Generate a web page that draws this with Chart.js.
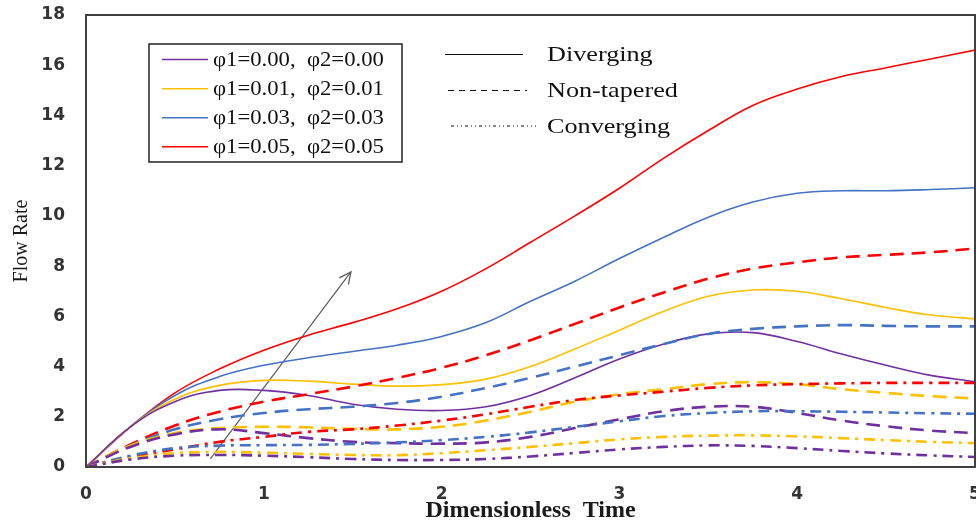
<!DOCTYPE html>
<html>
<head>
<meta charset="utf-8">
<script src="https://cdn.jsdelivr.net/npm/chart.js@4"></script>
<style>
html,body{margin:0;padding:0;background:#fff;}
#wrap{width:976px;height:525px;position:relative;}
</style>
</head>
<body>
<div id="wrap"><canvas id="c" width="976" height="525"></canvas></div>
<script>
// ---------- data ----------
const times = [0,0.25,0.5,0.75,1,1.25,1.5,1.75,2,2.25,2.5,2.75,3,3.25,3.5,3.75,4,4.25,4.5,4.75,5];

// Diverging (solid)
const divPurple = [0,1.6,2.6,3.05,3.05,2.85,2.5,2.3,2.25,2.4,2.85,3.55,4.3,4.9,5.3,5.35,5.0,4.5,4.05,3.65,3.4];
const divYellow = [0,1.6,2.7,3.25,3.45,3.42,3.3,3.22,3.28,3.5,4.0,4.7,5.45,6.2,6.8,7.05,7.0,6.7,6.35,6.05,5.9];
const divBlue   = [0,1.6,2.85,3.6,4.05,4.35,4.6,4.85,5.2,5.75,6.6,7.4,8.3,9.15,9.95,10.55,10.9,11.0,11.0,11.05,11.12];
const divRed    = [0,1.6,2.95,3.9,4.65,5.25,5.75,6.3,7.0,7.9,8.95,10.0,11.1,12.3,13.4,14.4,15.05,15.55,15.9,16.25,16.6];

// Non-tapered (dashed)
const nonPurple = [0,0.8,1.3,1.5,1.35,1.15,1.0,0.95,0.93,0.98,1.2,1.55,1.9,2.22,2.4,2.4,2.15,1.85,1.62,1.45,1.35];
const nonYellow = [0,0.85,1.35,1.55,1.6,1.58,1.52,1.5,1.6,1.85,2.2,2.6,2.9,3.1,3.3,3.38,3.3,3.1,2.95,2.82,2.73];
const nonBlue   = [0,0.85,1.5,1.9,2.15,2.3,2.4,2.55,2.8,3.15,3.55,4.0,4.45,4.9,5.3,5.5,5.6,5.65,5.62,5.6,5.6];
const nonRed    = [0,0.9,1.65,2.2,2.6,2.9,3.2,3.55,3.95,4.45,5.05,5.7,6.35,6.95,7.5,7.9,8.15,8.35,8.45,8.55,8.7];

// Converging (dash-dot)
const conPurple = [0,0.3,0.45,0.48,0.45,0.39,0.32,0.28,0.28,0.32,0.42,0.56,0.7,0.8,0.86,0.84,0.75,0.64,0.54,0.46,0.4];
const conYellow = [0,0.35,0.55,0.6,0.57,0.52,0.48,0.47,0.55,0.67,0.8,0.95,1.1,1.2,1.25,1.26,1.22,1.15,1.07,1.0,0.95];
const conBlue   = [0,0.45,0.75,0.85,0.87,0.88,0.92,0.98,1.07,1.2,1.38,1.6,1.82,2.03,2.15,2.22,2.22,2.2,2.17,2.14,2.12];
const conRed    = [0,0.4,0.7,1.0,1.2,1.4,1.5,1.65,1.85,2.1,2.4,2.67,2.85,3.0,3.15,3.25,3.3,3.33,3.35,3.35,3.35];

// Arrow annotation (data coordinates)
const arrowX = [0.70, 1.49];
const arrowY = [0.33, 7.77];

const seriesLabels = ['φ1=0.00,  φ2=0.00','φ1=0.01,  φ2=0.01','φ1=0.03,  φ2=0.03','φ1=0.05,  φ2=0.05'];
const styleLabels = ['Diverging','Non-tapered','Converging'];
const xTickValues = [0,1,2,3,4,5];
const yTickValues = [0,2,4,6,8,10,12,14,16,18];

// ---------- styling ----------
const colors = ['#7030A0','#FFC000','#4472C4','#FF0000'];
const groups = [
  {vals:[divPurple,divYellow,divBlue,divRed], dash:[], width:1.6},
  {vals:[nonPurple,nonYellow,nonBlue,nonRed], dash:[14,8], width:2.6},
  {vals:[conPurple,conYellow,conBlue,conRed], dash:[11,6,3,6], width:2.6}
];

const datasets = [];
[2,1,0].forEach(g=>{
  groups[g].vals.forEach((arr,i)=>{
    datasets.push({
      label: styleLabels[g]+' '+seriesLabels[i],
      data: times.map((t,k)=>({x:t,y:arr[k]})),
      borderColor: colors[i],
      borderWidth: groups[g].width,
      borderDash: groups[g].dash,
      pointRadius: 0,
      tension: 0.4,
      fill: false
    });
  });
});
datasets.push({
  label:'arrow',
  data: arrowX.map((x,k)=>({x:x,y:arrowY[k]})),
  borderColor:'#5a5a5a',
  borderWidth:1.2,
  pointRadius:0,
  tension:0
});
const arrowIndex = datasets.length-1;

const decor = {
  id:'decor',
  afterDatasetsDraw(chart){
    const ctx = chart.ctx;
    const a = chart.chartArea;
    ctx.save();
    // arrowhead
    const pts = chart.getDatasetMeta(arrowIndex).data;
    const p0 = pts[0], p1 = pts[1];
    const ang = Math.atan2(p1.y-p0.y, p1.x-p0.x);
    const L = 13, spread = 0.45;
    ctx.strokeStyle = '#5a5a5a';
    ctx.lineWidth = 1.3;
    ctx.beginPath();
    ctx.moveTo(p1.x - L*Math.cos(ang-spread), p1.y - L*Math.sin(ang-spread));
    ctx.lineTo(p1.x, p1.y);
    ctx.lineTo(p1.x - L*Math.cos(ang+spread), p1.y - L*Math.sin(ang+spread));
    ctx.stroke();

    // frame
    ctx.strokeStyle = '#404040';
    ctx.lineWidth = 2;
    ctx.strokeRect(a.left, a.top, a.right-a.left, a.bottom-a.top);

    // series legend box
    ctx.fillStyle = '#fff';
    ctx.fillRect(149, 44, 253, 118);
    ctx.strokeStyle = '#222';
    ctx.lineWidth = 1.5;
    ctx.strokeRect(149, 44, 253, 118);
    const rows = [59.5, 88.7, 117.7, 146.7];
    ctx.font = '21px "Liberation Serif", "Times New Roman", serif';
    ctx.textBaseline = 'middle';
    ctx.textAlign = 'left';
    rows.forEach((y,i)=>{
      ctx.strokeStyle = colors[i];
      ctx.lineWidth = 1.4;
      ctx.setLineDash([]);
      ctx.beginPath(); ctx.moveTo(162, y); ctx.lineTo(208, y); ctx.stroke();
      ctx.save();
      ctx.translate(213, y+1);
      ctx.scale(1.08, 1);
      ctx.fillStyle = '#111';
      ctx.fillText(seriesLabels[i], 0, 0);
      ctx.restore();
    });

    // style legend
    const sRows = [54.5, 90.5, 126];
    const dashes = [[], [6,5], [3,3,1,3,1,3]];
    const ends = [523, 527, 536];
    const starts = [445, 448, 451];
    ctx.font = '22px "Liberation Serif", "Times New Roman", serif';
    sRows.forEach((y,i)=>{
      ctx.strokeStyle = '#111';
      ctx.lineWidth = 1.1;
      ctx.setLineDash(dashes[i]);
      ctx.beginPath(); ctx.moveTo(starts[i], y); ctx.lineTo(ends[i], y); ctx.stroke();
      ctx.setLineDash([]);
      ctx.save();
      ctx.translate(547, y+1);
      ctx.scale(1.19, 1);
      ctx.fillStyle = '#111';
      ctx.fillText(styleLabels[i], 0, 0);
      ctx.restore();
    });
    ctx.restore();
  }
};

new Chart(document.getElementById('c'), {
  type:'line',
  data:{datasets},
  options:{
    responsive:false,
    animation:false,
    events:[],
    layout:{padding:{top:15,right:1,left:0,bottom:0}},
    plugins:{legend:{display:false}, tooltip:{enabled:false}},
    scales:{
      x:{
        type:'linear', min:0, max:5,
        afterBuildTicks(s){ s.ticks = xTickValues.map(v=>({value:v})); },
        afterFit(s){ s.height = 58; s.paddingLeft = 0; s.paddingRight = 0; },
        grid:{display:false, drawTicks:false},
        border:{display:false},
        ticks:{padding:17, color:'#333', font:{family:'"DejaVu Sans", Verdana, sans-serif', size:17, weight:'bold'}, maxRotation:0},
        title:{display:true, text:'Dimensionless  Time', color:'#1a1a1a', padding:{top:0,bottom:0},
               font:{family:'"Liberation Serif", "Times New Roman", serif', size:24, weight:'bold'}}
      },
      y:{
        type:'linear', min:0, max:18,
        afterBuildTicks(s){ s.ticks = yTickValues.map(v=>({value:v})); },
        afterFit(s){ s.width = 86; s.paddingTop = 0; s.paddingBottom = 0; },
        grid:{display:false, drawTicks:false},
        border:{display:false},
        ticks:{padding:21, color:'#333', font:{family:'"DejaVu Sans", Verdana, sans-serif', size:17, weight:'bold'}},
        title:{display:true, text:'Flow Rate', color:'#1a1a1a', padding:{top:10,bottom:0},
               font:{family:'"Liberation Serif", "Times New Roman", serif', size:20}}
      }
    }
  },
  plugins:[decor]
});
</script>
</body>
</html>
